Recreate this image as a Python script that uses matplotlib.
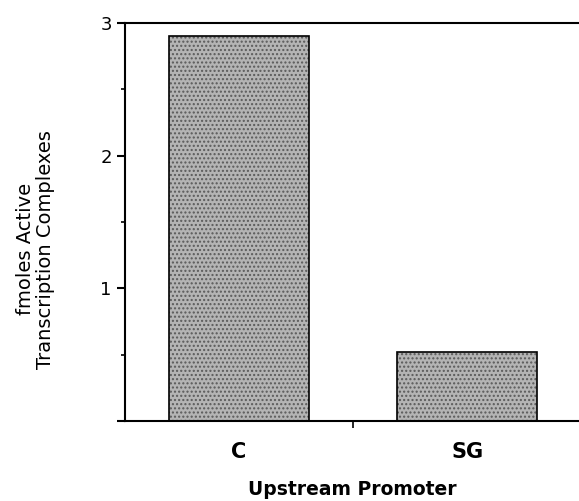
import matplotlib.pyplot as plt
from matplotlib.ticker import MultipleLocator

# Data
promoters = ['C', 'SG']
complexes = [2.9, 0.52]

fig = plt.figure(figsize=(5.79, 5.01), dpi=100)
ax = fig.add_axes([125 / 579, 80 / 501, 454 / 579, 398 / 501])

x = list(range(len(promoters)))
# stippled fill first, then a black outline on top
ax.bar(x, complexes, width=0.614, color='#b4b4b4', edgecolor='#5a5a5a',
       linewidth=0, hatch='....', zorder=2)
ax.bar(x, complexes, width=0.614, fill=False, edgecolor='black',
       linewidth=1.2, zorder=3)

ax.set_xlim(-0.5, 1.49)
ax.set_ylim(0, 3)

ax.spines['right'].set_visible(False)
for s in ['left', 'bottom', 'top']:
    ax.spines[s].set_linewidth(1.5)

ax.set_yticks([0, 1, 2, 3])
ax.set_yticklabels(['', '1', '2', '3'])
ax.yaxis.set_minor_locator(MultipleLocator(0.5))
ax.tick_params(axis='y', which='major', direction='out', length=6, width=1.5,
               labelsize=13)
ax.tick_params(axis='y', which='minor', direction='out', length=3, width=1.2)

ax.set_xticks([0.5], minor=True)
ax.set_xticks(x)
ax.set_xticklabels(promoters, fontsize=15, fontweight='bold')
ax.tick_params(axis='x', which='major', length=0, pad=15)
ax.tick_params(axis='x', which='minor', direction='out', length=5, width=1.2)

ax.set_ylabel('fmoles Active\nTranscription Complexes', fontsize=14,
              linespacing=1.05)
ax.yaxis.set_label_coords(-0.155, 0.432)
ax.set_xlabel('Upstream Promoter', fontsize=13.5, fontweight='bold', labelpad=13)

fig.savefig('out.png', dpi=100)
